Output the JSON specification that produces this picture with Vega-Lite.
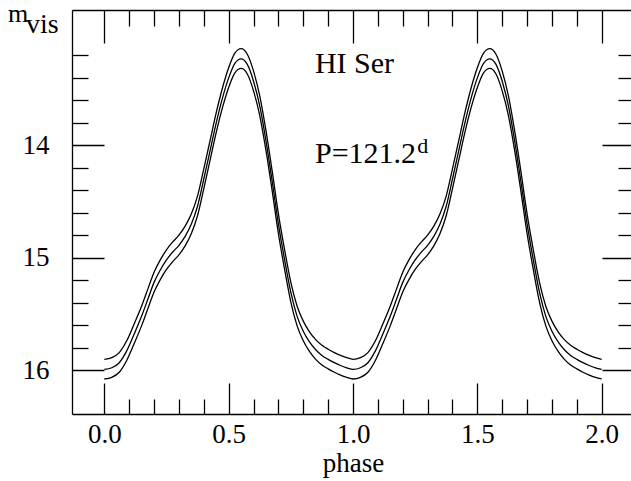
{
  "$schema": "https://vega.github.io/schema/vega-lite/v6.json",
  "width": 562,
  "height": 404,
  "autosize": "none",
  "padding": {"left": 72, "top": 10, "right": -3, "bottom": 67},
  "background": "white",
  "config": {
    "view": {"stroke": null},
    "axis": {
      "domainColor": "black", "tickColor": "black", "labelColor": "black", "titleColor": "black",
      "labelFont": "Liberation Serif", "titleFont": "Liberation Serif",
      "labelFontSize": 27, "titleFontSize": 27, "titleFontWeight": "normal",
      "grid": false, "domainWidth": 1.3, "tickWidth": 1.3
    }
  },
  "datasets": {
    "curve": [
      {"p": 0.00, "hi": 15.905, "mid": 15.995, "lo": 16.08},
      {"p": 0.03, "hi": 15.89, "mid": 15.98, "lo": 16.065},
      {"p": 0.06, "hi": 15.845, "mid": 15.935, "lo": 16.02},
      {"p": 0.09, "hi": 15.74, "mid": 15.83, "lo": 15.915},
      {"p": 0.12, "hi": 15.59, "mid": 15.68, "lo": 15.765},
      {"p": 0.15, "hi": 15.43, "mid": 15.52, "lo": 15.605},
      {"p": 0.175, "hi": 15.28, "mid": 15.37, "lo": 15.455},
      {"p": 0.20, "hi": 15.13, "mid": 15.22, "lo": 15.305},
      {"p": 0.225, "hi": 15.02, "mid": 15.11, "lo": 15.195},
      {"p": 0.25, "hi": 14.93, "mid": 15.02, "lo": 15.105},
      {"p": 0.275, "hi": 14.86, "mid": 14.95, "lo": 15.035},
      {"p": 0.30, "hi": 14.80, "mid": 14.89, "lo": 14.975},
      {"p": 0.325, "hi": 14.72, "mid": 14.81, "lo": 14.895},
      {"p": 0.35, "hi": 14.61, "mid": 14.70, "lo": 14.785},
      {"p": 0.375, "hi": 14.45, "mid": 14.54, "lo": 14.625},
      {"p": 0.40, "hi": 14.21, "mid": 14.30, "lo": 14.385},
      {"p": 0.425, "hi": 13.96, "mid": 14.05, "lo": 14.135},
      {"p": 0.45, "hi": 13.71, "mid": 13.80, "lo": 13.885},
      {"p": 0.475, "hi": 13.49, "mid": 13.58, "lo": 13.665},
      {"p": 0.50, "hi": 13.31, "mid": 13.40, "lo": 13.485},
      {"p": 0.525, "hi": 13.18, "mid": 13.27, "lo": 13.355},
      {"p": 0.55, "hi": 13.14, "mid": 13.23, "lo": 13.315},
      {"p": 0.575, "hi": 13.19, "mid": 13.28, "lo": 13.365},
      {"p": 0.60, "hi": 13.34, "mid": 13.43, "lo": 13.515},
      {"p": 0.625, "hi": 13.56, "mid": 13.65, "lo": 13.735},
      {"p": 0.65, "hi": 13.87, "mid": 13.96, "lo": 14.045},
      {"p": 0.675, "hi": 14.23, "mid": 14.32, "lo": 14.405},
      {"p": 0.70, "hi": 14.61, "mid": 14.70, "lo": 14.785},
      {"p": 0.725, "hi": 14.93, "mid": 15.02, "lo": 15.105},
      {"p": 0.75, "hi": 15.22, "mid": 15.31, "lo": 15.395},
      {"p": 0.775, "hi": 15.43, "mid": 15.52, "lo": 15.605},
      {"p": 0.80, "hi": 15.565, "mid": 15.655, "lo": 15.74},
      {"p": 0.825, "hi": 15.66, "mid": 15.75, "lo": 15.835},
      {"p": 0.85, "hi": 15.73, "mid": 15.82, "lo": 15.905},
      {"p": 0.875, "hi": 15.78, "mid": 15.87, "lo": 15.955},
      {"p": 0.90, "hi": 15.815, "mid": 15.905, "lo": 15.99},
      {"p": 0.925, "hi": 15.845, "mid": 15.935, "lo": 16.02},
      {"p": 0.95, "hi": 15.87, "mid": 15.96, "lo": 16.045},
      {"p": 0.975, "hi": 15.89, "mid": 15.98, "lo": 16.065},
      {"p": 1.00, "hi": 15.905, "mid": 15.995, "lo": 16.08},
      {"p": 1.03, "hi": 15.89, "mid": 15.98, "lo": 16.065},
      {"p": 1.06, "hi": 15.845, "mid": 15.935, "lo": 16.02},
      {"p": 1.09, "hi": 15.74, "mid": 15.83, "lo": 15.915},
      {"p": 1.12, "hi": 15.59, "mid": 15.68, "lo": 15.765},
      {"p": 1.15, "hi": 15.43, "mid": 15.52, "lo": 15.605},
      {"p": 1.175, "hi": 15.28, "mid": 15.37, "lo": 15.455},
      {"p": 1.20, "hi": 15.13, "mid": 15.22, "lo": 15.305},
      {"p": 1.225, "hi": 15.02, "mid": 15.11, "lo": 15.195},
      {"p": 1.25, "hi": 14.93, "mid": 15.02, "lo": 15.105},
      {"p": 1.275, "hi": 14.86, "mid": 14.95, "lo": 15.035},
      {"p": 1.30, "hi": 14.80, "mid": 14.89, "lo": 14.975},
      {"p": 1.325, "hi": 14.72, "mid": 14.81, "lo": 14.895},
      {"p": 1.35, "hi": 14.61, "mid": 14.70, "lo": 14.785},
      {"p": 1.375, "hi": 14.45, "mid": 14.54, "lo": 14.625},
      {"p": 1.40, "hi": 14.21, "mid": 14.30, "lo": 14.385},
      {"p": 1.425, "hi": 13.96, "mid": 14.05, "lo": 14.135},
      {"p": 1.45, "hi": 13.71, "mid": 13.80, "lo": 13.885},
      {"p": 1.475, "hi": 13.49, "mid": 13.58, "lo": 13.665},
      {"p": 1.50, "hi": 13.31, "mid": 13.40, "lo": 13.485},
      {"p": 1.525, "hi": 13.18, "mid": 13.27, "lo": 13.355},
      {"p": 1.55, "hi": 13.14, "mid": 13.23, "lo": 13.315},
      {"p": 1.575, "hi": 13.19, "mid": 13.28, "lo": 13.365},
      {"p": 1.60, "hi": 13.34, "mid": 13.43, "lo": 13.515},
      {"p": 1.625, "hi": 13.56, "mid": 13.65, "lo": 13.735},
      {"p": 1.65, "hi": 13.87, "mid": 13.96, "lo": 14.045},
      {"p": 1.675, "hi": 14.23, "mid": 14.32, "lo": 14.405},
      {"p": 1.70, "hi": 14.61, "mid": 14.70, "lo": 14.785},
      {"p": 1.725, "hi": 14.93, "mid": 15.02, "lo": 15.105},
      {"p": 1.75, "hi": 15.22, "mid": 15.31, "lo": 15.395},
      {"p": 1.775, "hi": 15.43, "mid": 15.52, "lo": 15.605},
      {"p": 1.80, "hi": 15.565, "mid": 15.655, "lo": 15.74},
      {"p": 1.825, "hi": 15.66, "mid": 15.75, "lo": 15.835},
      {"p": 1.85, "hi": 15.73, "mid": 15.82, "lo": 15.905},
      {"p": 1.875, "hi": 15.78, "mid": 15.87, "lo": 15.955},
      {"p": 1.90, "hi": 15.815, "mid": 15.905, "lo": 15.99},
      {"p": 1.925, "hi": 15.845, "mid": 15.935, "lo": 16.02},
      {"p": 1.95, "hi": 15.87, "mid": 15.96, "lo": 16.045},
      {"p": 1.975, "hi": 15.89, "mid": 15.98, "lo": 16.065},
      {"p": 2.00, "hi": 15.905, "mid": 15.995, "lo": 16.08}
    ]
  },
  "resolve": {"axis": {"x": "independent", "y": "independent"}},
  "layer": [
    {
      "data": {"name": "curve"},
      "transform": [{"fold": ["hi", "mid", "lo"], "as": ["s", "mag"]}],
      "mark": {"type": "line", "color": "black", "strokeWidth": 1.3, "interpolate": "monotone"},
      "encoding": {
        "x": {"field": "p", "type": "quantitative",
          "scale": {"domain": [-0.13, 2.13], "nice": false, "zero": false},
          "axis": {"orient": "bottom", "values": [0, 0.5, 1, 1.5, 2], "format": ".1f", "tickSize": -31, "labelPadding": 38, "title": "phase", "titlePadding": 3}},
        "y": {"field": "mag", "type": "quantitative",
          "scale": {"domain": [12.7957, 16.3916], "nice": false, "zero": false, "reverse": true},
          "axis": {"orient": "left", "values": [14, 15, 16], "format": "d", "tickSize": -32, "labelPadding": 55, "title": null}},
        "detail": {"field": "s"}
      }
    },
    {
      "data": {"values": [{"label": "HI Ser", "p": 0.847, "mag": 13.354}]},
      "mark": {"type": "text", "font": "Liberation Serif", "fontSize": 30, "align": "left", "baseline": "alphabetic", "color": "black"},
      "encoding": {
        "x": {"field": "p", "type": "quantitative", "scale": {"domain": [-0.13, 2.13], "nice": false, "zero": false},
          "axis": {"orient": "bottom", "values": [0.1, 0.2, 0.3, 0.4, 0.6, 0.7, 0.8, 0.9, 1.1, 1.2, 1.3, 1.4, 1.6, 1.7, 1.8, 1.9], "tickSize": -15, "labels": false, "domain": false, "title": null}},
        "y": {"field": "mag", "type": "quantitative", "scale": {"domain": [12.7957, 16.3916], "nice": false, "zero": false, "reverse": true},
          "axis": {"orient": "left", "values": [13.2, 13.4, 13.6, 13.8, 14.2, 14.4, 14.6, 14.8, 15.2, 15.4, 15.6, 15.8], "tickSize": -16, "labels": false, "domain": false, "title": null}},
        "text": {"field": "label"}
      }
    },
    {
      "data": {"values": [{"label": "P=121.2", "p": 0.847, "mag": 14.155}]},
      "mark": {"type": "text", "font": "Liberation Serif", "fontSize": 30, "align": "left", "baseline": "alphabetic", "color": "black"},
      "encoding": {
        "x": {"field": "p", "type": "quantitative", "scale": {"domain": [-0.13, 2.13], "nice": false, "zero": false},
          "axis": {"orient": "top", "values": [0, 0.5, 1, 1.5, 2], "tickSize": -33, "labels": false, "title": null}},
        "y": {"field": "mag", "type": "quantitative", "scale": {"domain": [12.7957, 16.3916], "nice": false, "zero": false, "reverse": true},
          "axis": {"orient": "right", "values": [14, 15, 16], "tickSize": -32, "labels": false, "title": null}},
        "text": {"field": "label"}
      }
    },
    {
      "data": {"values": [{"label": "d", "p": 1.258, "mag": 14.069}]},
      "mark": {"type": "text", "font": "Liberation Serif", "fontSize": 22, "align": "left", "baseline": "alphabetic", "color": "black"},
      "encoding": {
        "x": {"field": "p", "type": "quantitative", "scale": {"domain": [-0.13, 2.13], "nice": false, "zero": false},
          "axis": {"orient": "top", "values": [0.1, 0.2, 0.3, 0.4, 0.6, 0.7, 0.8, 0.9, 1.1, 1.2, 1.3, 1.4, 1.6, 1.7, 1.8, 1.9], "tickSize": -16, "labels": false, "domain": false, "title": null}},
        "y": {"field": "mag", "type": "quantitative", "scale": {"domain": [12.7957, 16.3916], "nice": false, "zero": false, "reverse": true},
          "axis": {"orient": "right", "values": [13.2, 13.4, 13.6, 13.8, 14.2, 14.4, 14.6, 14.8, 15.2, 15.4, 15.6, 15.8], "tickSize": -16, "labels": false, "domain": false, "title": null}},
        "text": {"field": "label"}
      }
    },
    {
      "data": {"values": [{"label": "m", "p": -0.387, "mag": 12.903}]},
      "mark": {"type": "text", "font": "Liberation Serif", "fontSize": 26, "align": "left", "baseline": "alphabetic", "color": "black"},
      "encoding": {
        "x": {"field": "p", "type": "quantitative", "scale": {"domain": [-0.13, 2.13], "nice": false, "zero": false}, "axis": null},
        "y": {"field": "mag", "type": "quantitative", "scale": {"domain": [12.7957, 16.3916], "nice": false, "zero": false, "reverse": true}, "axis": null},
        "text": {"field": "label"}
      }
    },
    {
      "data": {"values": [{"label": "vis", "p": -0.315, "mag": 13.004}]},
      "mark": {"type": "text", "font": "Liberation Serif", "fontSize": 28, "align": "left", "baseline": "alphabetic", "color": "black"},
      "encoding": {
        "x": {"field": "p", "type": "quantitative", "scale": {"domain": [-0.13, 2.13], "nice": false, "zero": false}, "axis": null},
        "y": {"field": "mag", "type": "quantitative", "scale": {"domain": [12.7957, 16.3916], "nice": false, "zero": false, "reverse": true}, "axis": null},
        "text": {"field": "label"}
      }
    }
  ]
}
